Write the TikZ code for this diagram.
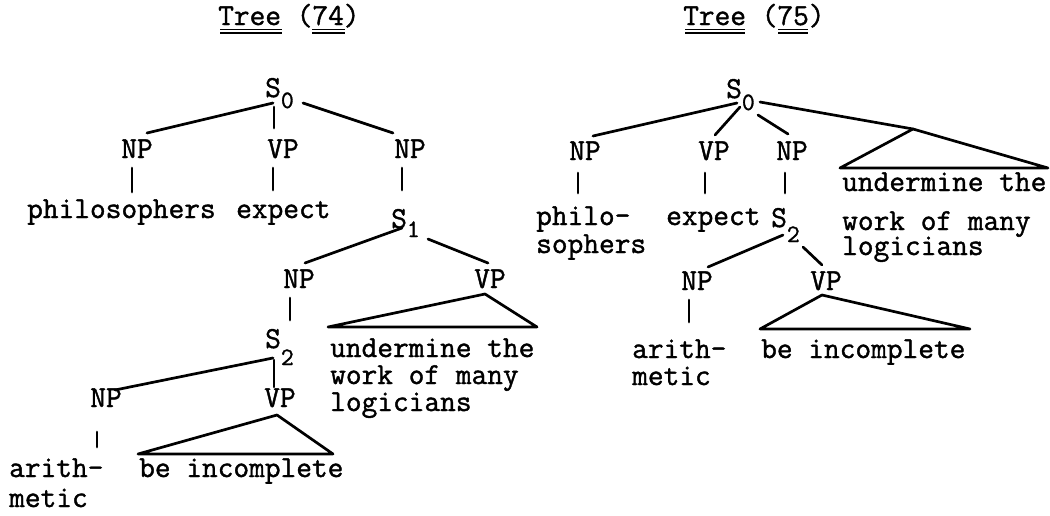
\documentclass[tikz,border=0pt]{standalone}
\usepackage{fontspec}
\newfontfamily\twfont{Latin Modern Mono}[FakeBold=1.3]
\newcommand\tfont{\fontsize{30.5}{27}\selectfont\twfont}
\newcommand\sdn[2]{\raisebox{-#2pt}{\fontsize{25}{25}\selectfont #1}}
\newcommand\ml[1]{\begin{tabular}[t]{@{}l@{}}#1\end{tabular}}
\begin{document}
\begin{tikzpicture}[x=1pt,y=-1pt,
  lab/.style={inner sep=0pt, anchor=base, font=\tfont},
  txt/.style={inner sep=0pt, anchor=base west, font=\tfont},
  sn/.style={inner sep=0pt, anchor=base west, font=\tfont},
  edge/.style={line width=2.7pt, line cap=round, line join=round},
  ul/.style={line width=1.6pt}]
\fill[white] (0,0) rectangle (1050,515);
\useasboundingbox (0,0) rectangle (1050,515);

% ---------------- Tree (74)
\node[txt] (t74) at (218,25) {Tree (74)};
\draw[ul] ([shift={(2,4.5)}]t74.base west) -- ([shift={(64,4.5)}]t74.base west);
\draw[ul] ([shift={(2,8)}]t74.base west) -- ([shift={(64,8)}]t74.base west);
\draw[ul] ([shift={(94,4.5)}]t74.base west) -- ([shift={(127,4.5)}]t74.base west);
\draw[ul] ([shift={(94,8)}]t74.base west) -- ([shift={(127,8)}]t74.base west);

\node[sn] (a0) at (265,97) {S\sdn{0}{11}};
\node[lab] (a1) at (137,158) {NP};
\node[lab] (a2) at (283,158) {VP};
\node[lab] (a3) at (410,158) {NP};
\node[txt] (a4) at (27,218) {philosophers};
\node[txt] (a5) at (236,218) {expect};
\node[sn] (a6) at (391,228) {S\sdn{1}{9}};
\node[lab] (a7) at (299,288) {NP};
\node[lab] (a8) at (490,288) {VP};
\node[txt] (a9) at (330,357) {\ml{undermine the\\work of many\\logicians}};
\node[sn] (a10) at (265,348) {S\sdn{2}{17}};
\node[lab] (a11) at (106,407) {NP};
\node[lab] (a12) at (280,407) {VP};
\node[txt] (a13) at (9,477) {\ml{arith-\\[3pt]metic}};
\node[txt] (a14) at (139,477) {be incomplete};

\draw[edge] ([shift={(8,6)}]a0.base west) -- ([shift={(10,-25)}]a1.base);
\draw[edge] ([shift={(9,10)}]a0.base west) -- ([shift={(-9,-30)}]a2.base);
\draw[edge] ([shift={(38,6)}]a0.base west) -- ([shift={(-17,-25)}]a3.base);
\draw[edge] ([shift={(-5,10)}]a1.base) -- ([shift={(105,-26)}]a4.base west);
\draw[edge] ([shift={(-10,10)}]a2.base) -- ([shift={(37,-28)}]a5.base west);
\draw[edge] ([shift={(-8,10)}]a3.base) -- ([shift={(11,-38)}]a6.base west);
\draw[edge] ([shift={(11,0)}]a6.base west) -- ([shift={(6,-25)}]a7.base);
\draw[edge] ([shift={(37,11)}]a6.base west) -- ([shift={(-2,-25)}]a8.base);
\draw[edge] ([shift={(-9,10)}]a7.base) -- ([shift={(25,-28)}]a10.base west);
\draw[edge] ([shift={(-5,6)}]a8.base) -- ([shift={(-2,-30)}]a9.base west)
  -- ([shift={(207,-30)}]a9.base west) -- cycle;
\draw[edge] ([shift={(8,10)}]a10.base west) -- ([shift={(9,-17)}]a11.base);
\draw[edge] ([shift={(9,12)}]a10.base west) -- ([shift={(-6,-20)}]a12.base);
\draw[edge] ([shift={(-9,25)}]a11.base) -- ([shift={(88,-30)}]a13.base west);
\draw[edge] ([shift={(-3,8)}]a12.base) -- ([shift={(-1,-23)}]a14.base west)
  -- ([shift={(194,-23)}]a14.base west) -- cycle;

% ---------------- Tree (75)
\node[txt] (t75) at (683,25) {Tree (75)};
\draw[ul] ([shift={(2,4.5)}]t75.base west) -- ([shift={(62,4.5)}]t75.base west);
\draw[ul] ([shift={(2,8)}]t75.base west) -- ([shift={(62,8)}]t75.base west);
\draw[ul] ([shift={(95,4.5)}]t75.base west) -- ([shift={(125,4.5)}]t75.base west);
\draw[ul] ([shift={(95,8)}]t75.base west) -- ([shift={(125,8)}]t75.base west);

\node[sn] (b0) at (726,98) {S\sdn{0}{12}};
\node[lab] (b1) at (585,160) {NP};
\node[lab] (b2) at (714,160) {VP};
\node[lab] (b3) at (792,160) {NP};
\coordinate (b4) at (913,129);
\node[txt] (b5) at (842,191) {\ml{undermine the\\[12pt]work of many\\[-2pt]logicians}};
\node[txt] (b6) at (536,225) {\ml{philo-\\[1pt]sophers}};
\node[txt] (b7) at (666,225) {expect};
\node[sn] (b8) at (771,227) {S\sdn{2}{15}};
\node[lab] (b9) at (697,290) {NP};
\node[lab] (b10) at (826,290) {VP};
\node[txt] (b11) at (632,358) {\ml{arith-\\metic}};
\node[txt] (b12) at (761,358) {be incomplete};

\draw[edge] ([shift={(11,5)}]b0.base west) -- ([shift={(8,-24)}]b1.base);
\draw[edge] ([shift={(14,9)}]b0.base west) -- ([shift={(1,-25)}]b2.base);
\draw[edge] ([shift={(32,17)}]b0.base west) -- ([shift={(-4,-26)}]b3.base);
\draw[edge] ([shift={(34,4)}]b0.base west) -- (b4);
\draw[edge] (b4) -- ([shift={(-2,-23)}]b5.base west) -- ([shift={(206,-23)}]b5.base west) -- cycle;
\draw[edge] ([shift={(-7,13)}]b1.base) -- ([shift={(42,-32)}]b6.base west);
\draw[edge] ([shift={(-9,13)}]b2.base) -- ([shift={(39,-32)}]b7.base west);
\draw[edge] ([shift={(-7,13)}]b3.base) -- ([shift={(14,-34)}]b8.base west);
\draw[edge] ([shift={(12,8)}]b8.base west) -- ([shift={(11,-23)}]b9.base);
\draw[edge] ([shift={(32,20)}]b8.base west) -- ([shift={(-4,-25)}]b10.base);
\draw[edge] ([shift={(-8,10)}]b9.base) -- ([shift={(57,-36)}]b11.base west);
\draw[edge] ([shift={(-4,5)}]b10.base) -- ([shift={(-1,-29)}]b12.base west)
  -- ([shift={(209,-29)}]b12.base west) -- cycle;
\end{tikzpicture}
\end{document}
